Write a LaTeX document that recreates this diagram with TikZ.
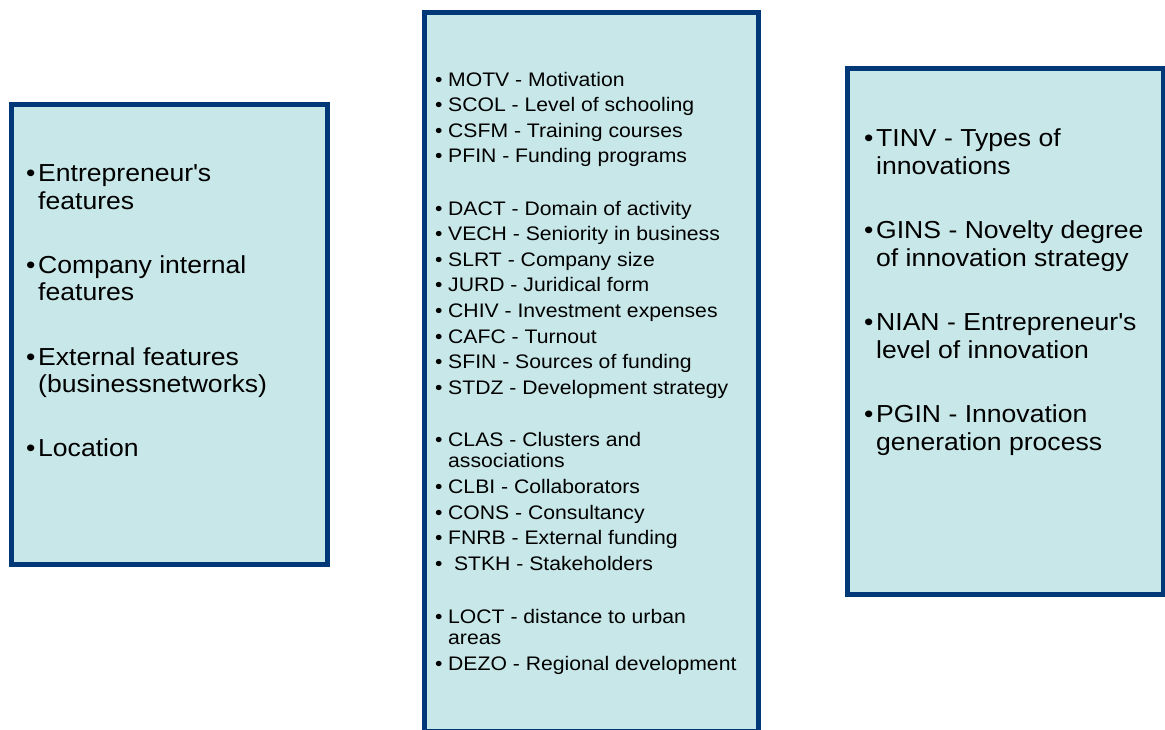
\documentclass[tikz,border=0pt]{standalone}
\usepackage{fontspec}
\setmainfont[FakeStretch=1.08]{Liberation Sans}
\definecolor{boxblue}{RGB}{0,56,120}
\definecolor{boxfill}{RGB}{200,231,232}
\newcommand{\bul}[1][13pt]{\makebox[#1][l]{\textbullet}}
\newcommand{\bulgap}[1][13pt]{\hspace*{#1}}
\begin{document}
\begin{tikzpicture}[x=1pt, y=-1pt,
    box/.style={draw=boxblue, fill=boxfill, line width=5pt, inner sep=0pt},
    small/.style={anchor=base west, inner sep=0pt, align=left, font={\fontsize{19.6}{21.3}\selectfont}},
    large/.style={anchor=base west, inner sep=0pt, align=left, font={\fontsize{24.6}{27.3}\selectfont}}]
    \useasboundingbox (0,0) rectangle (1165,729);

    % Boxes
    \node[box, minimum width=316pt, minimum height=460pt] (features) at (169.5,334) {};
    \node[box, minimum width=334pt, minimum height=718.5pt] (variables) at (591,371.75) {};
    \node[box, minimum width=315.5pt, minimum height=526pt] (innovation) at (1005.25,331.5) {};

    % Left box (base = last line)
    \node[large] (entr) at (26,209) {\bul[12pt]Entrepreneur\textquotesingle s\\\bulgap[12pt]features};
    \node[large] (comp) at (26,300.7) {\bul[12pt]Company internal\\\bulgap[12pt]features};
    \node[large] (extf) at (26,392.4) {\bul[12pt]External features\\\bulgap[12pt](businessnetworks)};
    \node[large] (loc) at (26,456.8) {\bul[12pt]Location};

    % Middle box
    \node[small] (motv) at (435,86) {\bul MOTV - Motivation};
    \node[small] (scol) at (435,111.6) {\bul SCOL - Level of schooling};
    \node[small] (csfm) at (435,137.2) {\bul CSFM - Training courses};
    \node[small] (pfin) at (435,162.8) {\bul PFIN - Funding programs};

    \node[small] (dact) at (435,215) {\bul DACT - Domain of activity};
    \node[small] (vech) at (435,240.6) {\bul VECH - Seniority in business};
    \node[small] (slrt) at (435,266.2) {\bul SLRT - Company size};
    \node[small] (jurd) at (435,291.8) {\bul JURD - Juridical form};
    \node[small] (chiv) at (435,317.4) {\bul CHIV - Investment expenses};
    \node[small] (cafc) at (435,343) {\bul CAFC - Turnout};
    \node[small] (sfin) at (435,368.6) {\bul SFIN - Sources of funding};
    \node[small] (stdz) at (435,394.2) {\bul STDZ - Development strategy};

    \node[small] (clas) at (435,467.3) {\bul CLAS - Clusters and\\\bulgap associations};
    \node[small] (clbi) at (435,493.3) {\bul CLBI - Collaborators};
    \node[small] (cons) at (435,519) {\bul CONS - Consultancy};
    \node[small] (fnrb) at (435,544.6) {\bul FNRB - External funding};
    \node[small] (stkh) at (435,570.2) {\bul\ STKH - Stakeholders};

    \node[small] (loct) at (435,644.6) {\bul LOCT - distance to urban\\\bulgap areas};
    \node[small] (dezo) at (435,670) {\bul DEZO - Regional development};

    % Right box
    \node[large] (tinv) at (864,174) {\bul[12pt]TINV - Types of\\\bulgap[12pt]innovations};
    \node[large] (gins) at (864,266) {\bul[12pt]GINS - Novelty degree\\\bulgap[12pt]of innovation strategy};
    \node[large] (nian) at (864,358) {\bul[12pt]NIAN - Entrepreneur\textquotesingle s\\\bulgap[12pt]level of innovation};
    \node[large] (pgin) at (864,450) {\bul[12pt]PGIN - Innovation\\\bulgap[12pt]generation process};
\end{tikzpicture}
\end{document}
